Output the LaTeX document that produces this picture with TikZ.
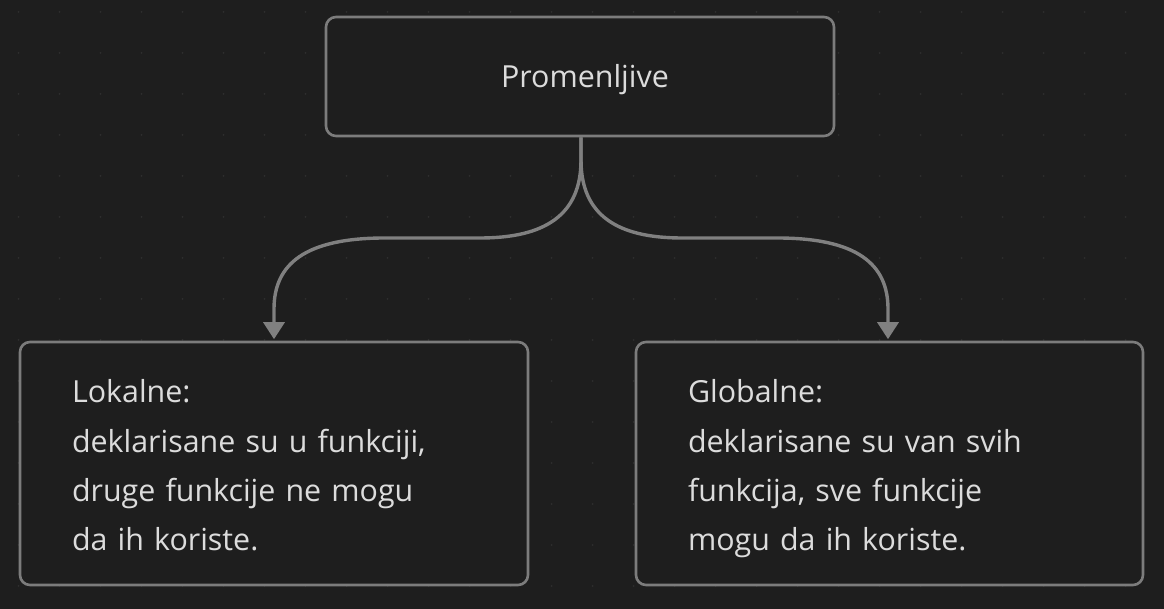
\documentclass[tikz,border=0pt]{standalone}
\usepackage{fontspec}
\setmainfont{Open Sans}
\usetikzlibrary{arrows.meta}
\definecolor{bg}{HTML}{1E1E1E}
\definecolor{griddot}{HTML}{2E2E2E}
\definecolor{edge}{HTML}{7C7C7C}
\definecolor{wire}{HTML}{808080}
\definecolor{ink}{HTML}{DCDCDC}
\tikzset{
  box/.style={draw=edge, fill=bg, line width=2.6pt, rounded corners=10pt,
    inner sep=0pt, minimum width=508pt, shape=rectangle},
  txt/.style={text=ink, inner sep=0pt, font=\fontsize{30.4}{49.3}\selectfont},
  para/.style={txt, align=left, text width=404pt},
  conn/.style={draw=wire, line width=3.4pt,
    -{Triangle[width=21pt,length=17pt]}}
}
\begin{document}
\begin{tikzpicture}[x=1pt,y=1pt]
\useasboundingbox (0,0) rectangle (1164,609);
\fill[bg] (0,0) rectangle (1164,609);
\foreach \i in {0,...,28}{
  \foreach \j in {0,...,14}{
    \fill[griddot] ({18.5+41*\i},{609-12-41*\j}) circle (1pt);
  }
}
% boxes
\node[box, minimum height=119pt] (top) at (580,532.5) {};
\node[box, minimum height=243pt] (lbox) at (274,145.5) {};
\node[box, minimum height=243pt, minimum width=507pt] (rbox) at (889.5,145.5) {};
% texts
\node[txt, anchor=base] (toptext) at (585,521) {Promenljive};
\node[para] (ltext) at ([yshift=-5.5pt]lbox.center) {Lokalne:\\deklarisane su u funkciji,\\druge funkcije ne mogu\\da ih koriste.\vphantom{g}};
\node[para] (rtext) at ([xshift=0.5pt,yshift=-5.5pt]rbox.center) {Globalne:\\deklarisane su van svih\\funkcija, sve funkcije\\mogu da ih koriste.\vphantom{g}};
% connectors
\coordinate (split) at (581,449);
\draw[conn] ([xshift=1pt]top.south) -- (split)
  .. controls (581,394) and (545,371) .. (480,371)
  -- (385,371)
  .. controls (305,371) and (274,345) .. (274,300)
  -- ([yshift=1.5pt]lbox.north);
\draw[conn] ([xshift=1pt]top.south) -- (split)
  .. controls (581,394) and (617,371) .. (682,371)
  -- (777,371)
  .. controls (857,371) and (888,345) .. (888,300)
  -- ([xshift=-1.5pt,yshift=1.5pt]rbox.north);
\end{tikzpicture}
\end{document}
